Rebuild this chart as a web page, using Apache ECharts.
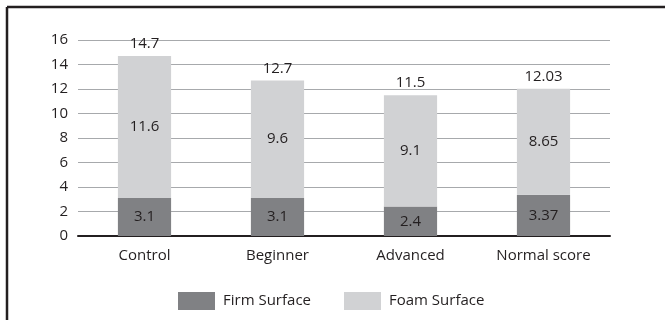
<!DOCTYPE html>
<html><head><meta charset="utf-8">
<script src="https://cdn.jsdelivr.net/npm/echarts@6/dist/echarts.min.js"></script>
<style>html,body{margin:0;padding:0;background:#fff}#c{width:665px;height:320px}</style>
</head><body><div id="c"></div>
<script>
const categories = ['Control', 'Beginner', 'Advanced', 'Normal score'];
const firmSurface = [3.1, 3.1, 2.4, 3.37];
const foamSurface = [11.6, 9.6, 9.1, 8.65];
const totals = [14.7, 12.7, 11.5, 12.03];
const seriesNames = ['Firm Surface', 'Foam Surface'];

const txt = '#231f20';
const font = 'Open Sans';
const fs = 15;
const chart = echarts.init(document.getElementById('c'), null, {renderer: 'canvas'});
chart.setOption({
  animation: false,
  textStyle: {fontFamily: font, color: txt},
  grid: {left: 78, right: 55, top: 40, bottom: 84},
  legend: {
    data: seriesNames, left: 173, top: 287, itemWidth: 37, itemHeight: 18, itemGap: 33,
    icon: 'rect',
    textStyle: {fontSize: fs, color: txt, fontFamily: font, padding: [0, 0, 0, 3]}
  },
  xAxis: {
    type: 'category', data: categories,
    axisLine: {lineStyle: {color: '#231f20', width: 2}},
    axisTick: {show: false},
    axisLabel: {fontSize: fs, color: txt, margin: 12, fontFamily: font}
  },
  yAxis: {
    type: 'value', min: 0, max: 16, interval: 2,
    axisLine: {show: false}, axisTick: {show: false},
    splitLine: {lineStyle: {color: '#a7a9ac', width: 1}},
    axisLabel: {fontSize: fs, color: txt, margin: 10, fontFamily: font}
  },
  series: [
    {name: seriesNames[0], type: 'bar', stack: 's', data: firmSurface, barWidth: '40%',
     itemStyle: {color: '#808184'},
     label: {show: true, position: 'inside', fontSize: fs, color: txt, fontFamily: font}},
    {name: seriesNames[1], type: 'bar', stack: 's', data: foamSurface,
     itemStyle: {color: '#d1d2d4'},
     label: {show: true, position: 'inside', fontSize: fs, color: txt, fontFamily: font}},
    {name: 'Total', type: 'scatter', data: totals, symbolSize: 1, silent: true,
     itemStyle: {opacity: 0},
     label: {show: true, position: 'top', distance: 4, fontSize: fs, color: txt, fontFamily: font,
       opacity: 1, formatter: p => String(p.value)}}
  ],
  graphic: [
    {type: 'line', shape: {x1: 7, y1: 7, x2: 665, y2: 7}, style: {stroke: '#231f20', lineWidth: 2.5}},
    {type: 'line', shape: {x1: 7, y1: 7, x2: 7, y2: 320}, style: {stroke: '#231f20', lineWidth: 2.5}}
  ]
});
</script></body></html>
